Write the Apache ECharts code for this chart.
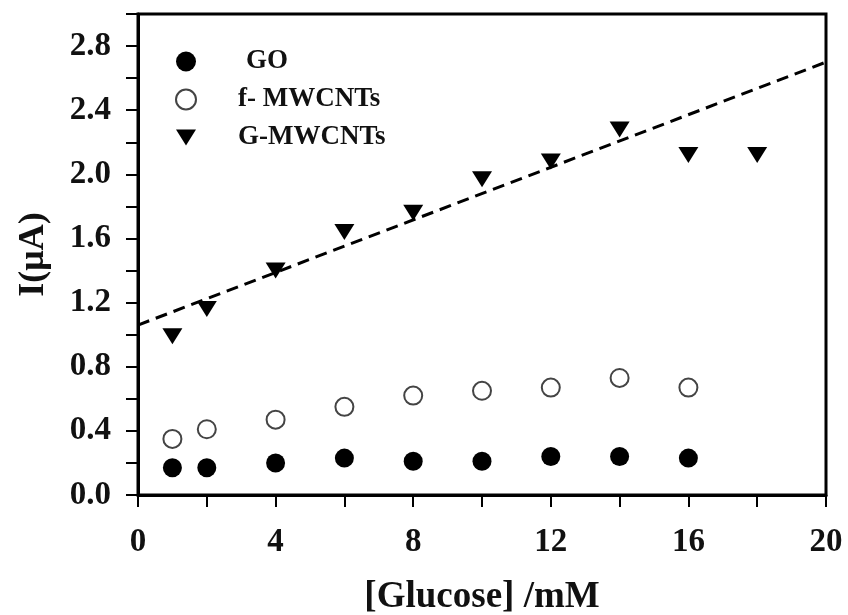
<!DOCTYPE html>
<html>
<head>
<meta charset="utf-8">
<script src="https://cdn.jsdelivr.net/npm/echarts@6/dist/echarts.min.js"></script>
<style>
  html, body { margin: 0; padding: 0; background: #fff; }
  #chart { width: 848px; height: 615px; }
</style>
</head>
<body>
<div id="chart"></div>
<script>
// glucose concentrations (mM)
const glucose = [1, 2, 4, 6, 8, 10, 12, 14, 16];
const glucoseG = [1, 2, 4, 6, 8, 10, 12, 14, 16, 18];

// currents (uA)
const goVals = [0.17, 0.17, 0.20, 0.23, 0.21, 0.21, 0.24, 0.24, 0.23];
const fVals = [0.35, 0.41, 0.47, 0.55, 0.62, 0.65, 0.67, 0.73, 0.67];
const gVals = [0.99, 1.16, 1.40, 1.64, 1.76, 1.97, 2.08, 2.28, 2.12, 2.12];

// dashed linear fit end points
const fitX = [0, 20];
const fitY = [1.06, 2.70];

const font = 'Liberation Serif';
const triDown = 'path://M0,0 L20,0 L10,16 Z';

const pairs = (xs, ys) => xs.map((x, i) => [x, ys[i]]);

const chart = echarts.init(document.getElementById('chart'));

const options = {
  animation: false,
  grid: {
    left: 138, right: 22, top: 14, bottom: 120,
    outerBoundsMode: 'none',
    show: true, borderColor: '#000', borderWidth: 3
  },
  legend: {
    orient: 'vertical',
    left: 170, top: 43,
    itemWidth: 20, itemHeight: 20,
    itemGap: 11,
    textStyle: { fontFamily: font, fontWeight: 'bold', fontSize: 27, color: '#111' },
    data: [
      { name: 'GO', textStyle: { padding: [0, 0, 0, 45] } },
      { name: 'f- MWCNTs', textStyle: { padding: [0, 0, 0, 37] } },
      { name: 'G-MWCNTs', textStyle: { padding: [0, 0, 0, 37] } }
    ]
  },
  xAxis: {
    type: 'value',
    min: 0, max: 20, interval: 2,
    name: '[Glucose] /mM',
    nameLocation: 'middle',
    nameGap: 84,
    nameTextStyle: { fontFamily: font, fontWeight: 'bold', fontSize: 37, color: '#111' },
    axisLine: { lineStyle: { color: '#000', width: 3 } },
    axisTick: { length: 12, lineStyle: { color: '#000', width: 2 } },
    splitLine: { show: false },
    axisLabel: {
      margin: 31,
      fontFamily: font, fontWeight: 'bold', fontSize: 33, color: '#111',
      formatter: v => (v % 4 === 0 ? String(v) : '')
    }
  },
  yAxis: {
    type: 'value',
    min: 0, max: 3.0, interval: 0.2,
    name: 'I(\u03bcA)',
    nameLocation: 'middle',
    nameGap: 86,
    nameTextStyle: { fontFamily: font, fontWeight: 'bold', fontSize: 36, color: '#111' },
    axisLine: { lineStyle: { color: '#000', width: 3 } },
    axisTick: { length: 12, lineStyle: { color: '#000', width: 2 } },
    splitLine: { show: false },
    axisLabel: {
      margin: 27,
      fontFamily: font, fontWeight: 'bold', fontSize: 33, color: '#111',
      formatter: v => {
        const k = Math.round(v * 10);
        return (k % 4 === 0 && k <= 28) ? v.toFixed(1) : '';
      }
    }
  },
  series: [
    {
      name: 'fit',
      type: 'line',
      data: pairs(fitX, fitY),
      symbol: 'none',
      lineStyle: { color: '#000', width: 3, type: [12, 7] },
      z: 1
    },
    {
      name: 'GO',
      type: 'scatter',
      data: pairs(glucose, goVals),
      symbol: 'circle',
      symbolSize: 19,
      itemStyle: { color: '#000', opacity: 1 },
      z: 3
    },
    {
      name: 'f- MWCNTs',
      type: 'scatter',
      data: pairs(glucose, fVals),
      symbol: 'circle',
      symbolSize: 18,
      itemStyle: { color: '#fff', borderColor: '#444', borderWidth: 2, opacity: 1 },
      z: 3
    },
    {
      name: 'G-MWCNTs',
      type: 'scatter',
      data: pairs(glucoseG, gVals),
      symbol: triDown,
      symbolSize: [20, 16],
      itemStyle: { color: '#000', opacity: 1 },
      z: 3
    }
  ]
};

chart.setOption(options);
</script>
</body>
</html>
